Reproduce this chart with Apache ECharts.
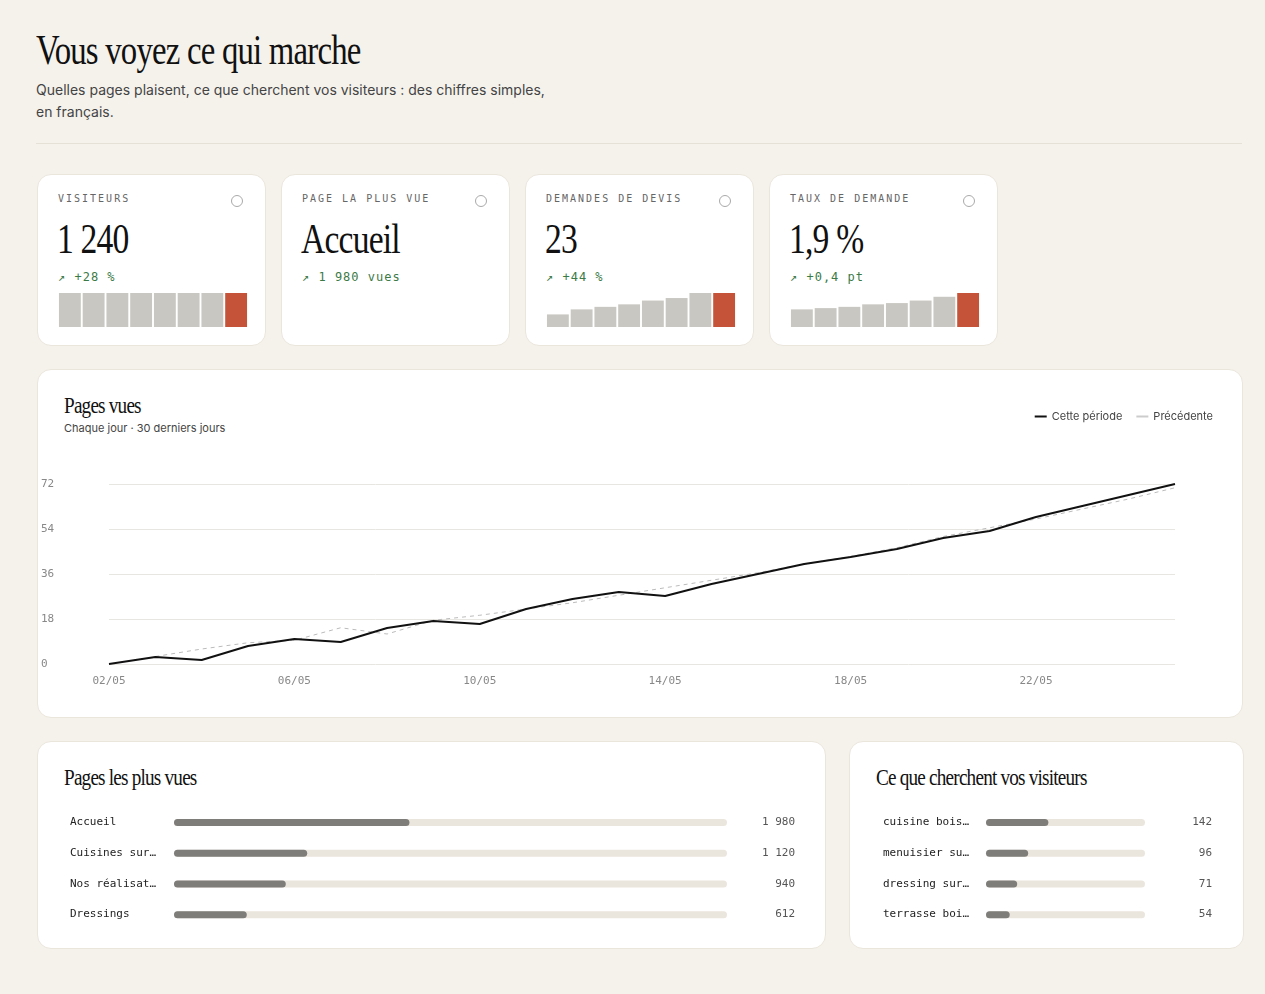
<!DOCTYPE html>
<html><head><meta charset="utf-8">
<script src="https://cdn.jsdelivr.net/npm/echarts@6/dist/echarts.min.js"></script>
<style>
body{margin:0;background:#f5f2ec;width:1265px;height:994px;position:relative;font-family:Inter,"Noto Sans",sans-serif;overflow:hidden}
.abs{position:absolute}
.card{position:absolute;background:#fff;border:1px solid #ebe6dc;border-radius:14px;box-sizing:border-box}
.serif{font-family:"Liberation Serif",serif;letter-spacing:-1px}
.mono{font-family:"DejaVu Sans Mono",monospace}
.klab{position:absolute;left:20px;top:18px;font-size:10px;letter-spacing:2px;color:#666}
.kdot{position:absolute;right:22px;top:20px;width:10px;height:10px;border:1px solid #aaa;border-radius:50%}
.kval{position:absolute;left:19px;top:40px;font-size:42px;color:#111;transform:scaleX(.8);transform-origin:left}
.kd{position:absolute;left:20px;top:95px;font-size:12px;color:#3b7a47;letter-spacing:1px}
.spark{position:absolute;left:20px;top:118px;width:190px;height:34px}
.ctitle{position:absolute;left:26px;top:22px;font-size:24px;color:#111;transform:scaleX(.8);transform-origin:left}
</style></head><body>
<div class="abs serif" style="left:36px;top:26px;font-size:42px;color:#111;transform:scaleX(.78);transform-origin:left">Vous voyez ce qui marche</div>
<div class="abs" style="left:36px;top:79px;width:520px;font-size:14px;line-height:22px;color:#444">Quelles pages plaisent, ce que cherchent vos visiteurs : des chiffres simples, en français.</div>
<div class="abs" style="left:36px;top:143px;width:1206px;height:1px;background:#e6e1d7"></div>

<div class="card" style="left:37px;top:174px;width:229px;height:172px"><div class="klab mono">VISITEURS</div><div class="kdot"></div><div class="kval serif">1 240</div><div class="kd mono">↗ +28 %</div><div class="spark" id="s1"></div></div>
<div class="card" style="left:281px;top:174px;width:229px;height:172px"><div class="klab mono">PAGE LA PLUS VUE</div><div class="kdot"></div><div class="kval serif">Accueil</div><div class="kd mono">↗ 1 980 vues</div></div>
<div class="card" style="left:525px;top:174px;width:229px;height:172px"><div class="klab mono">DEMANDES DE DEVIS</div><div class="kdot"></div><div class="kval serif">23</div><div class="kd mono">↗ +44 %</div><div class="spark" id="s2"></div></div>
<div class="card" style="left:769px;top:174px;width:229px;height:172px"><div class="klab mono">TAUX DE DEMANDE</div><div class="kdot"></div><div class="kval serif">1,9 %</div><div class="kd mono">↗ +0,4 pt</div><div class="spark" id="s3"></div></div>

<div class="card" style="left:37px;top:369px;width:1206px;height:349px">
<div class="ctitle serif">Pages vues</div>
<div class="abs" style="left:26px;top:51px;font-size:11px;color:#444">Chaque jour · 30 derniers jours</div>
<div id="line" class="abs" style="left:0;top:0;width:1206px;height:349px"></div></div>

<div class="card" style="left:37px;top:741px;width:789px;height:208px">
<div class="ctitle serif">Pages les plus vues</div>
<div id="b1" class="abs" style="left:0;top:0;width:789px;height:208px"></div></div>
<div class="card" style="left:849px;top:741px;width:395px;height:208px">
<div class="ctitle serif">Ce que cherchent vos visiteurs</div>
<div id="b2" class="abs" style="left:0;top:0;width:395px;height:208px"></div></div>

<script>
const days=['02/05','03/05','04/05','05/05','06/05','07/05','08/05','09/05','10/05','11/05','12/05','13/05','14/05','15/05','16/05','17/05','18/05','19/05','20/05','21/05','22/05','23/05','24/05','25/05'];
const current=[0,2.8,1.6,7.2,10,8.8,14.4,17.2,16,22,26,28.8,27.2,32,36,40,42.8,46,50.4,53.2,58.8,63.2,67.6,72];
const previous=[null,3,6,8.5,9.5,14.5,12,17.5,19.5,22,24.5,27.5,30.5,33.5,36.5,40,43,46.5,51,54.5,58,62,66,70.5];
const yTicks=[0,18,36,54,72];
const sparkVisiteurs=[27,27,27,27,27,27,27,27];
const sparkDevis=[10,14,16,18,21,23,27,27];
const sparkTaux=[14,15,16,18,19,21,24,27];
const pages=['Accueil','Cuisines sur…','Nos réalisat…','Dressings'];
const pageViews=[1980,1120,940,612];
const searches=['cuisine bois…','menuisier su…','dressing sur…','terrasse boi…'];
const searchCounts=[142,96,71,54];

function spark(id,data){
  const c=echarts.init(document.getElementById(id));
  c.setOption({animation:false,grid:{left:0,right:0,top:0,bottom:0},
    xAxis:{type:'category',show:false,data:data.map((_,i)=>i)},
    yAxis:{type:'value',show:false,min:0,max:27},
    series:[{type:'bar',barCategoryGap:'8%',data:data.map((v,i)=>({value:v,itemStyle:{color:i===data.length-1?'#c4533a':'#c9c7c1'}}))}]});
}
spark('s1',sparkVisiteurs);spark('s2',sparkDevis);spark('s3',sparkTaux);

const lc=echarts.init(document.getElementById('line'));
const mono='DejaVu Sans Mono';
lc.setOption({animation:false,
  legend:{right:26,top:36,itemWidth:12,itemHeight:2,itemGap:14,textStyle:{fontSize:11,color:'#444',fontFamily:'Inter'},
    data:[{name:'Cette période',icon:'rect'},{name:'Précédente',icon:'rect',itemStyle:{color:'#ccc'}}]},
  grid:{left:68,right:69,top:114,bottom:55},
  xAxis:{type:'category',boundaryGap:false,data:days,axisLine:{show:false},axisTick:{show:false},
    axisLabel:{interval:3,color:'#888',fontFamily:mono,fontSize:11,margin:12}},
  yAxis:{type:'value',min:0,max:72,interval:18,axisLabel:{color:'#888',fontFamily:mono,fontSize:11,margin:18,align:'left',padding:[0,0,0,-50]},
    splitLine:{lineStyle:{color:'#e8e6e1'}}},
  series:[
    {name:'Précédente',type:'line',data:previous,symbol:'none',lineStyle:{color:'#bbb',width:1,type:[4,4]},itemStyle:{color:'#bbb'}},
    {name:'Cette période',type:'line',data:current,symbol:'none',lineStyle:{color:'#111',width:2},itemStyle:{color:'#111'}}]});

function bars(id,cats,vals,max,lm,rm){
  const c=echarts.init(document.getElementById(id));
  c.setOption({animation:false,grid:{left:136,right:100,top:65,bottom:20},
    xAxis:{type:'value',show:false,min:0,max:max},
    yAxis:[{type:'category',inverse:true,data:cats,axisLine:{show:false},axisTick:{show:false},
      axisLabel:{align:'left',margin:lm,color:'#222',fontFamily:mono,fontSize:11}},
      {type:'category',inverse:true,position:'right',data:vals.map(v=>v.toLocaleString('fr-FR').replace(/\s/g,' ')),axisLine:{show:false},axisTick:{show:false},
      axisLabel:{align:'right',margin:rm,color:'#555',fontFamily:mono,fontSize:11}}],
    series:[{type:'bar',data:vals,barWidth:7,showBackground:true,backgroundStyle:{color:'#ebe6dd',borderRadius:4},
      itemStyle:{color:'#7e7d7a',borderRadius:4}}]});
}
bars('b1',pages,pageViews,4650,104,68);
bars('b2',searches,searchCounts,362,103,67);
</script></body></html>
